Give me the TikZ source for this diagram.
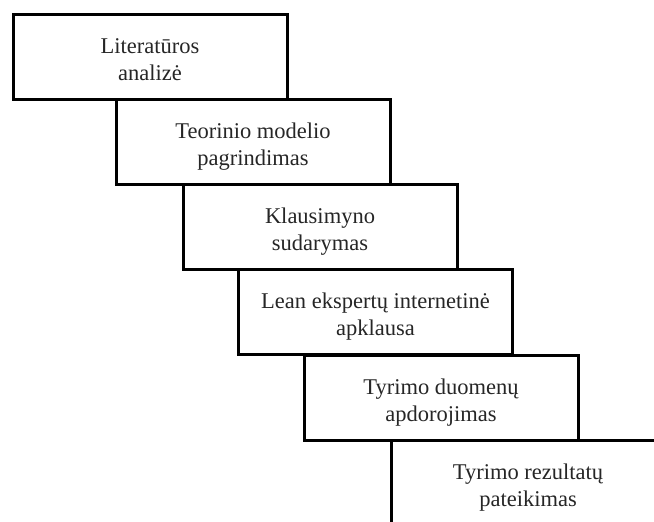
\documentclass[tikz,border=0pt]{standalone}
\usepackage{fontspec}
\setmainfont{Liberation Serif}
\usetikzlibrary{calc}

\tikzset{stage/.style={draw, line width=3pt, minimum width=274pt, minimum height=85pt,
    inner sep=0pt, align=center, text=black!85, text height=47pt, text depth=0pt,
    font=\fontsize{22.5}{27}\selectfont}}

\begin{document}
\begin{tikzpicture}[x=1pt,y=-1pt]
                      \useasboundingbox (0,0) rectangle (654,522);
                      \clip (0,0) rectangle (654,522);
                      \node [stage] (lit) at (150,56.5) {Literatūros\\analizė};
                      \node [stage] (mod) at (253,142) {Teorinio modelio\\pagrindimas};
                      \node [stage] (kla) at (320,227) {Klausimyno\\sudarymas};
                      \node [stage] (apk) at (375.5,312) {Lean ekspertų internetinė\\apklausa};
                      \node [stage] (duo) at (441,397.5) {Tyrimo duomenų\\apdorojimas};
                      \node [stage] (rez) at (528,482.5) {Tyrimo rezultatų\\pateikimas};
                  \end{tikzpicture}
\end{document}
